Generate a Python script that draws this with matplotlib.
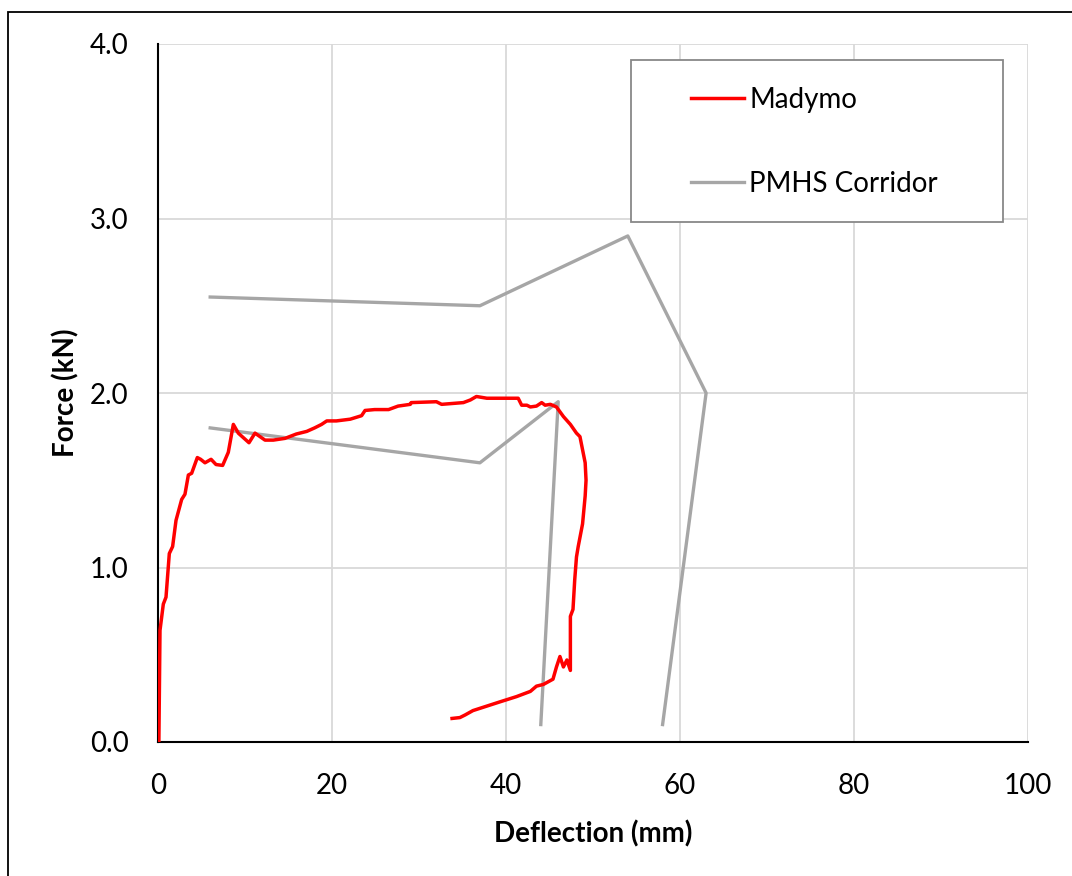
import matplotlib.pyplot as plt
from matplotlib.patches import Rectangle

# Madymo force-deflection response
madymo_defl = [0.1, 0.23, 0.61, 0.92, 1.3, 1.68, 2.07, 2.72, 3.1, 3.49, 3.87, 4.52, 4.9,
               5.4, 6.1, 6.67, 7.43, 8.08, 8.66, 9.23, 10.46, 11.15, 12.3, 13.25, 14.6,
               15.9, 17.1, 18.0, 18.8, 19.4, 20.5, 22.1, 23.4, 23.8, 24.9, 26.5, 27.6,
               29.0, 29.1, 32.0, 32.6, 35.1, 35.9, 36.6, 37.8, 40.1, 41.4, 41.8, 42.4,
               42.8, 43.5, 44.1, 44.5, 45.1, 45.8, 46.6, 47.4, 48.1, 48.5, 49.1, 49.2,
               49.1, 48.8, 48.3, 48.1, 47.9, 47.7, 47.4, 47.4, 47.0, 46.6, 46.2, 45.8,
               45.4, 44.3, 43.5, 42.8, 41.2, 39.3, 36.2, 35.3, 34.7, 33.8]
madymo_force = [0.0, 0.64, 0.79, 0.83, 1.08, 1.12, 1.27, 1.39, 1.42, 1.53, 1.54, 1.63, 1.62,
                1.60, 1.62, 1.59, 1.585, 1.66, 1.82, 1.77, 1.715, 1.77, 1.73, 1.73, 1.74,
                1.765, 1.78, 1.80, 1.82, 1.84, 1.84, 1.85, 1.87, 1.90, 1.905, 1.905, 1.925,
                1.935, 1.945, 1.95, 1.935, 1.945, 1.96, 1.98, 1.97, 1.97, 1.97, 1.93, 1.93,
                1.92, 1.925, 1.945, 1.93, 1.935, 1.92, 1.865, 1.82, 1.77, 1.75, 1.60, 1.50,
                1.41, 1.25, 1.12, 1.06, 0.93, 0.76, 0.72, 0.41, 0.47, 0.43, 0.49, 0.43,
                0.36, 0.33, 0.32, 0.29, 0.26, 0.23, 0.18, 0.155, 0.14, 0.135]

# PMHS corridor bounds
upper_defl = [6, 37, 54, 63, 58]
upper_force = [2.55, 2.50, 2.90, 2.00, 0.10]
lower_defl = [6, 37, 46, 44]
lower_force = [1.80, 1.60, 1.95, 0.10]

plt.rcParams['font.family'] = ['Lato', 'DejaVu Sans']

W, H = 1072, 876
fig = plt.figure(figsize=(W / 100, H / 100), dpi=100)
ax = fig.add_axes([158 / W, 1 - 742 / H, 870 / W, 698 / H])

# chart frame
fig.patches.append(Rectangle((8 / W, -0.1), 1.2, 1 - 12 / H + 0.1,
                             transform=fig.transFigure, fill=False,
                             edgecolor='black', linewidth=1.3))

ax.plot(madymo_defl, madymo_force, color='#ff0000', linewidth=2.5, label='Madymo', zorder=3)
ax.plot(upper_defl, upper_force, color='#a6a6a6', linewidth=2.4, label='PMHS Corridor', zorder=2)
ax.plot(lower_defl, lower_force, color='#a6a6a6', linewidth=2.4, zorder=2)

ax.set_xlim(0, 100)
ax.set_ylim(0, 4)
ax.set_xticks(range(0, 101, 20))
ax.set_yticks([0, 1, 2, 3, 4])
ax.set_yticklabels(['%.1f' % v for v in [0, 1, 2, 3, 4]])
ax.grid(True, color='#d9d9d9', linewidth=1.3)
ax.set_axisbelow(True)
for side in ['top', 'right']:
    ax.spines[side].set_visible(False)
for side in ['left', 'bottom']:
    ax.spines[side].set_linewidth(1.5)
    ax.spines[side].set_color('black')
ax.tick_params(length=0, labelsize=20)
ax.tick_params(axis='y', pad=21)
ax.tick_params(axis='x', pad=22)

ax.set_xlabel('Deflection (mm)', fontsize=20, fontweight='bold', labelpad=16)
ax.set_ylabel('Force (kN)', fontsize=20, fontweight='bold', labelpad=8)

# legend box, white so the grid doesn't show through
ax.add_patch(Rectangle((473 / 870, (742 - 222) / 698), 372 / 870, 162 / 698,
                       transform=ax.transAxes, facecolor='white', edgecolor='#888888',
                       linewidth=1.3, clip_on=False, zorder=4))
leg = ax.legend(loc='upper left', bbox_to_anchor=((691 - 158) / 870, (742 - 87) / 698),
                fontsize=20, frameon=False, borderpad=0, borderaxespad=0,
                handlelength=1.9, handletextpad=0.2, labelspacing=2.07)
leg.set_zorder(5)

fig.savefig('out.png', dpi=100)
